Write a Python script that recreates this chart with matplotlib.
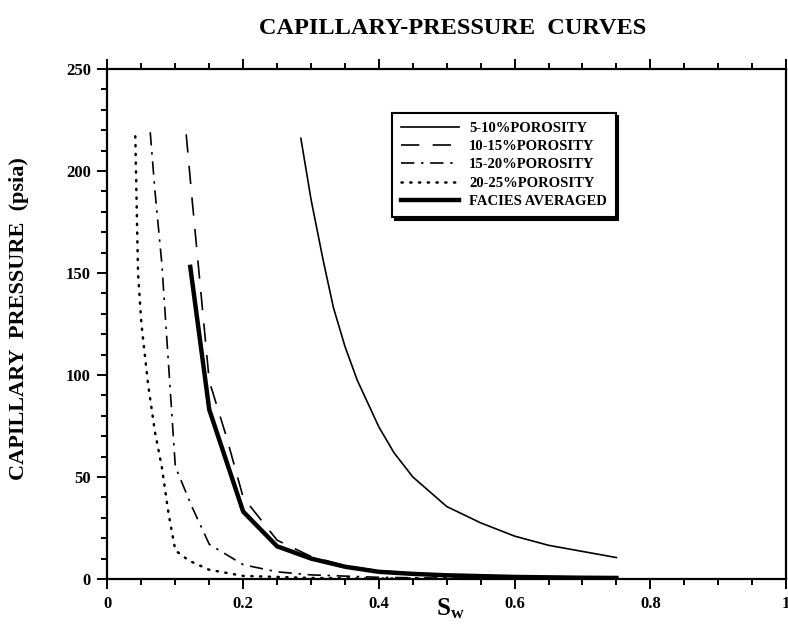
import matplotlib
matplotlib.use("Agg")
import matplotlib.pyplot as plt
from matplotlib.ticker import MultipleLocator, FixedLocator, FixedFormatter

plt.rcParams["font.family"] = ["Liberation Serif", "DejaVu Serif"]
plt.rcParams["font.weight"] = "bold"
plt.rcParams["mathtext.fontset"] = "custom"
plt.rcParams["mathtext.rm"] = "Liberation Serif:bold"
plt.rcParams["mathtext.bf"] = "Liberation Serif:bold"
plt.rcParams["mathtext.it"] = "Liberation Serif:bold"

# values (Sw, capillary pressure psia)
sw_5_10 = [0.285, 0.30, 0.318, 0.333, 0.35, 0.368, 0.40, 0.422, 0.45, 0.50,
           0.55, 0.60, 0.65, 0.70, 0.75]
pc_5_10 = [216, 186, 156, 133, 114, 97.5, 74.5, 62, 50, 35.5,
           27.5, 21, 16.5, 13.5, 10.5]

sw_10_15 = [0.116, 0.125, 0.15, 0.175, 0.20, 0.25, 0.30, 0.35, 0.40, 0.50, 0.60, 0.75]
pc_10_15 = [218, 185, 97, 70, 40, 19, 11, 6.5, 4, 1.8, 0.8, 0.3]

sw_15_20 = [0.063, 0.07, 0.08, 0.09, 0.10, 0.125, 0.15, 0.20, 0.25, 0.30, 0.40, 0.50, 0.75]
pc_15_20 = [219, 190, 155, 105, 55, 35, 17, 7, 3.5, 2, 0.8, 0.4, 0.2]

sw_20_25 = [0.041, 0.045, 0.05, 0.06, 0.07, 0.08, 0.09, 0.10, 0.12, 0.15, 0.20, 0.30, 0.40, 0.75]
pc_20_25 = [217, 150, 125, 95, 72, 55, 32, 14, 9, 4.5, 1.5, 0.5, 0.2, 0.1]

sw_avg = [0.122, 0.15, 0.20, 0.25, 0.30, 0.35, 0.40, 0.45, 0.50, 0.60, 0.70, 0.75]
pc_avg = [153, 83, 33, 16, 10, 6, 3.5, 2.5, 1.8, 1.0, 0.6, 0.5]

labels = ["5-10%POROSITY", "10-15%POROSITY", "15-20%POROSITY",
          "20-25%POROSITY", "FACIES AVERAGED"]
x_ticks = [0, 0.2, 0.4, 0.6, 0.8, 1.0]
x_tick_labels = ["0", "0.2", "0.4", "0.6", "0.8", "1"]
y_ticks = [0, 50, 100, 150, 200, 250]

fig = plt.figure(figsize=(7.88, 6.37), dpi=100)
ax = fig.add_axes([0.1364, 0.0911, 0.8611, 0.8006])

ax.plot(sw_5_10, pc_5_10, color="black", lw=1.2, label=labels[0])
l2, = ax.plot(sw_10_15, pc_10_15, color="black", lw=1.2, label=labels[1])
l2.set_dashes([11, 8])
l3, = ax.plot(sw_15_20, pc_15_20, color="black", lw=1.2, label=labels[2])
l3.set_dashes([8, 4, 1.5, 4])
l4, = ax.plot(sw_20_25, pc_20_25, color="black", lw=1.8, label=labels[3],
              dash_capstyle="round")
l4.set_dashes([0.5, 3])
ax.plot(sw_avg, pc_avg, color="black", lw=3.2, label=labels[4],
        solid_joinstyle="round")

ax.set_xlim(0, 1)
ax.set_ylim(0, 250)
ax.xaxis.set_major_locator(FixedLocator(x_ticks))
ax.xaxis.set_major_formatter(FixedFormatter(x_tick_labels))
ax.xaxis.set_minor_locator(MultipleLocator(0.05))
ax.yaxis.set_major_locator(FixedLocator(y_ticks))
ax.yaxis.set_minor_locator(MultipleLocator(10))

for s in ax.spines.values():
    s.set_linewidth(1.6)
ax.tick_params(which="both", direction="out", top=True, right=False,
               labelsize=12, width=1.4)
ax.tick_params(which="major", length=7, pad=5)
ax.tick_params(which="minor", length=4)
for t in ax.get_xticklabels() + ax.get_yticklabels():
    t.set_fontweight("bold")

leg = ax.legend(loc="upper left", bbox_to_anchor=(0.419, 0.914),
                frameon=True, fancybox=False, handlelength=4.0,
                prop={"weight": "bold", "size": 10.5}, borderpad=0.6,
                labelspacing=0.35, handletextpad=0.7, borderaxespad=0,
                shadow={"facecolor": "black", "edgecolor": "black", "alpha": 1})
leg.get_frame().set_edgecolor("black")
leg.get_frame().set_linewidth(1.5)
leg.get_frame().set_alpha(1)

fig.text(0.574, 0.956, "CAPILLARY-PRESSURE  CURVES", ha="center", va="center",
         fontsize=17.5, fontweight="bold")
fig.text(0.024, 0.5, "CAPILLARY  PRESSURE  (psia)", rotation=90,
         ha="center", va="center", fontsize=16, fontweight="bold")
fig.text(0.571, 0.045, r"$\mathbf{S}_{\mathbf{w}}$", ha="center", va="center",
         fontsize=18)

fig.savefig("out.png", dpi=100)
